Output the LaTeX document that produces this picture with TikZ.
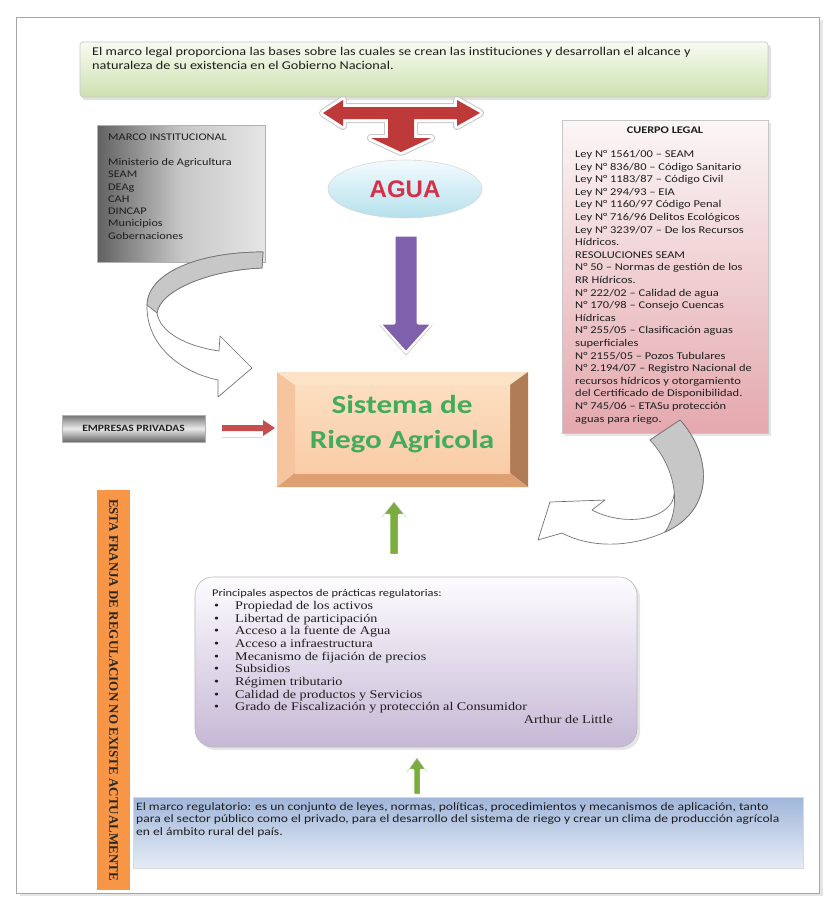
\documentclass[tikz,border=0pt]{standalone}
\usepackage{fontspec}
\usetikzlibrary{shapes.geometric}
\newfontfamily\calf[FakeStretch=1.2]{Carlito}
\newfontfamily\serf[FakeStretch=1.2]{Liberation Serif}
\newfontfamily\serfn{Liberation Serif}
\newfontfamily\arif{Liberation Sans}
\definecolor{gtop}{RGB}{247,251,242}
\definecolor{gbot}{RGB}{206,225,176}
\definecolor{redarr}{RGB}{190,58,58}
\definecolor{aguatop}{RGB}{242,251,254}
\definecolor{aguabot}{RGB}{182,224,236}
\definecolor{aguatxt}{RGB}{214,48,72}
\definecolor{purp}{RGB}{126,96,172}
\definecolor{peachA}{RGB}{252,222,192}
\definecolor{peachB}{RGB}{249,204,166}
\definecolor{bevL}{RGB}{246,196,158}
\definecolor{bevT}{RGB}{252,226,198}
\definecolor{bevR}{RGB}{176,124,86}
\definecolor{bevB}{RGB}{222,160,115}
\definecolor{sistxt}{RGB}{66,172,92}
\definecolor{pinkA}{RGB}{251,246,246}
\definecolor{pinkB}{RGB}{228,168,174}
\definecolor{lavA}{RGB}{253,252,255}
\definecolor{lavB}{RGB}{198,184,214}
\definecolor{blueA}{RGB}{160,182,218}
\definecolor{blueB}{RGB}{230,236,246}
\definecolor{orng}{RGB}{247,150,70}
\definecolor{grarr}{RGB}{122,172,62}
\definecolor{txtc}{RGB}{30,30,30}
\tikzset{
  txt/.style={inner sep=0pt, align=left, anchor=north west, text=txtc},
  boxline/.style={draw=black!22, line width=0.6pt, inner sep=0pt},
  ribbon/.style={draw=black!55, line width=0.7pt, fill=white, line join=round},
  ribbonback/.style={draw=black!55, line width=0.7pt, fill=black!22, line join=round},
}
\begin{document}
\begin{tikzpicture}[x=1pt,y=-1pt]
\useasboundingbox (0,0) rectangle (833,907);
\fill[white] (0,0) rectangle (833,907);
\fill[black!10] (20,20) rectangle (823,896);
\node[draw=black!35, fill=white, minimum width=803pt, minimum height=876pt, inner sep=0pt] (frame) at (418,455) {};

% top legal box
\fill[black!12, rounded corners=3pt] (82,45) rectangle (771,100);
\node[boxline, rounded corners=3pt, minimum width=688pt, minimum height=55pt, top color=gtop, bottom color=gbot] (legal) at (424,69.5) {};
\node[txt, font=\calf\fontsize{11.9}{14}\selectfont] (legaltxt) at (92,47) {El marco legal proporciona las bases sobre las cuales se crean las instituciones y desarrollan el alcance y\\naturaleza de su existencia en el Gobierno Nacional.};

% red T arrow
\path[draw=black!22, line width=8pt, line join=round] (323,113) -- (343,100) -- (343,107) -- (457,107) -- (457,100) -- (480,113) -- (457,126) -- (457,119) -- (414,119) -- (414,138) -- (431,138) -- (401,152) -- (371,138) -- (388,138) -- (388,119) -- (343,119) -- (343,126) -- cycle;
\path[draw=white, line width=6pt, line join=round, fill=redarr] (323,113) -- (343,100) -- (343,107) -- (457,107) -- (457,100) -- (480,113) -- (457,126) -- (457,119) -- (414,119) -- (414,138) -- (431,138) -- (401,152) -- (371,138) -- (388,138) -- (388,119) -- (343,119) -- (343,126) -- cycle;
\fill[redarr] (323,113) -- (343,100) -- (343,107) -- (457,107) -- (457,100) -- (480,113) -- (457,126) -- (457,119) -- (414,119) -- (414,138) -- (431,138) -- (401,152) -- (371,138) -- (388,138) -- (388,119) -- (343,119) -- (343,126) -- cycle;

% AGUA
\node[ellipse, draw=black!15, line width=0.6pt, top color=aguatop, bottom color=aguabot, minimum width=154pt, minimum height=58pt, inner sep=0pt, text=aguatxt, font=\arif\bfseries\fontsize{24}{24}\selectfont] (agua) at (405,189) {AGUA};

% purple arrow
\path[draw=white, line width=3pt, line join=round, fill=purp] (394,235) -- (418,235) -- (418,323) -- (433,323) -- (406,353) -- (379,323) -- (394,323) -- cycle;
\draw[black!25, line width=0.5pt] (379.5,325) -- (406,355) -- (432.5,325);

% Marco institucional
\node[boxline, draw=black!30, minimum width=168pt, minimum height=137pt, left color=black!62, right color=black!10, middle color=black!22] (mi) at (181,193.5) {};
\node[txt, font=\calf\fontsize{10.2}{12.3}\selectfont] (mitxt) at (108,134) {MARCO INSTITUCIONAL\\[12.3pt]Ministerio de Agricultura\\SEAM\\DEAg\\CAH\\DINCAP\\Municipios\\Gobernaciones};

% left curved arrow
\path[ribbon] (263,252) .. controls (200,252) and (148,272) .. (147,305) .. controls (146,345) and (180,372) .. (218,380) -- (218,397) -- (252,368) -- (220,336) -- (219,351) .. controls (185,346) and (160,332) .. (157,313) .. controls (160,290) and (210,270) .. (262,268) -- cycle;
\path[ribbonback] (263,252) .. controls (200,252) and (148,272) .. (147,305) -- (157,313) .. controls (160,290) and (210,270) .. (262,268) -- cycle;

% Cuerpo legal
\fill[black!10] (565,123) rectangle (771,436);
\node[boxline, minimum width=206pt, minimum height=313pt, top color=pinkA, bottom color=pinkB] (cl) at (665,276.5) {};
\node[inner sep=0pt, text=txtc, font=\calf\bfseries\fontsize{10.2}{13}\selectfont] (cltitle) at (665,130) {CUERPO LEGAL};
\node[txt, font=\calf\fontsize{10.4}{12.6}\selectfont] (cltxt) at (575,150) {Ley N° 1561/00 – SEAM\\Ley N° 836/80 – Código Sanitario\\Ley N° 1183/87 – Código Civil\\Ley N° 294/93 – EIA\\Ley N° 1160/97 Código Penal\\Ley N° 716/96 Delitos Ecológicos\\Ley N° 3239/07 – De los Recursos\\Hídricos.\\RESOLUCIONES SEAM\\N° 50 – Normas de gestión de los\\RR Hídricos.\\N° 222/02 – Calidad de agua\\N° 170/98 – Consejo Cuencas\\Hídricas\\N° 255/05 – Clasificación aguas\\superficiales\\N° 2155/05 – Pozos Tubulares\\N° 2.194/07 – Registro Nacional de\\recursos hídricos y otorgamiento\\del Certificado de Disponibilidad.\\N° 745/06 – ETASu protección\\aguas para riego.};

% right curved arrow
\path[ribbon] (680,420) .. controls (712,455) and (715,510) .. (665,532) .. controls (630,548) and (590,548) .. (562,533) -- (538,540) -- (550,502) -- (605,500) -- (592,510) .. controls (620,525) and (660,522) .. (672,502) .. controls (680,482) and (670,455) .. (650,440) -- cycle;
\path[ribbonback] (680,420) .. controls (712,455) and (715,510) .. (665,532) .. controls (682,508) and (676,468) .. (650,440) -- cycle;

% Sistema de riego
\node[inner sep=0pt, minimum width=251pt, minimum height=115pt] (sis) at (402.5,429.5) {};
\fill[bevL] (277,372) -- (295,385) -- (295,473) -- (277,487) -- cycle;
\fill[bevT] (277,372) -- (528,372) -- (510,385) -- (295,385) -- cycle;
\fill[bevR] (528,372) -- (528,487) -- (510,473) -- (510,385) -- cycle;
\fill[bevB] (277,487) -- (528,487) -- (510,473) -- (295,473) -- cycle;
\shade[top color=peachA, bottom color=peachB] (295,385) rectangle (510,473);
\node[inner sep=0pt, align=center, text=sistxt, font=\calf\bfseries\fontsize{26}{35}\selectfont] (sistxt) at (402,424) {Sistema de\\Riego Agricola};

% Empresas privadas
\node[boxline, draw=black!30, minimum width=143pt, minimum height=27pt, top color=black!55, bottom color=black!60, middle color=black!8, text=txtc, font=\calf\bfseries\fontsize{9.6}{10}\selectfont] (emp) at (133.5,428.5) {EMPRESAS PRIVADAS};
% red small arrow
\draw[black!15, line width=1pt] (222,437) -- (262,437);
\fill[redarr!90!white] (222,425) rectangle (263,431) (263,420) -- (275,428) -- (263,436) -- cycle;

% green arrow 1
\path[draw=white, line width=2.5pt, line join=round, fill=grarr] (389,555) -- (399,555) -- (399,515) -- (406,515) -- (394,500) -- (382,515) -- (389,515) -- cycle;
\draw[black!25, line width=0.4pt] (382,517) -- (394,502) -- (406,517);

% list box
\fill[black!10, rounded corners=18pt] (198,580) rectangle (640,750);
\node[boxline, draw=black!28, rounded corners=18pt, minimum width=442pt, minimum height=170pt, top color=lavA, bottom color=lavB] (lst) at (416,662) {};
\node[txt, font=\calf\fontsize{10.3}{12}\selectfont] (lsttitle) at (212,589) {Principales aspectos de prácticas regulatorias:};
\node[txt, font=\serf\fontsize{11.8}{12.7}\selectfont] (items) at (214,601) {%
\makebox[21pt][l]{\textbullet}Propiedad de los activos\\
\makebox[21pt][l]{\textbullet}Libertad de participación\\
\makebox[21pt][l]{\textbullet}Acceso a la fuente de Agua\\
\makebox[21pt][l]{\textbullet}Acceso a infraestructura\\
\makebox[21pt][l]{\textbullet}Mecanismo de fijación de precios\\
\makebox[21pt][l]{\textbullet}Subsidios\\
\makebox[21pt][l]{\textbullet}Régimen tributario\\
\makebox[21pt][l]{\textbullet}Calidad de productos y Servicios\\
\makebox[21pt][l]{\textbullet}Grado de Fiscalización y protección al Consumidor};
\node[inner sep=0pt, anchor=base east, text=txtc, font=\serf\fontsize{11.8}{12.7}\selectfont] (arthur) at (613,723) {Arthur de Little};

% green arrow 2
\path[draw=white, line width=2.5pt, line join=round, fill=grarr] (413,795) -- (421,795) -- (421,770) -- (427,770) -- (417,756) -- (407,770) -- (413,770) -- cycle;
\draw[black!25, line width=0.4pt] (407,772) -- (417,758) -- (427,772);

% orange strip
\node[inner sep=0pt, minimum width=33pt, minimum height=400pt, fill=orng] (strip) at (113.5,690) {};
\node[inner sep=0pt, rotate=-90, text=black!85, font=\serfn\bfseries\fontsize{13}{13}\selectfont] (striptxt) at (strip.center) {ESTA FRANJA DE REGULACION NO EXISTE ACTUALMENTE};

% bottom blue box
\node[boxline, draw=black!15, minimum width=670pt, minimum height=71pt, top color=blueA, bottom color=blueB] (bot) at (468,832.5) {};
\node[txt, font=\calf\fontsize{11.3}{12.5}\selectfont] (bottxt) at (136,802) {El marco regulatorio: es un conjunto de leyes, normas, políticas, procedimientos y mecanismos de aplicación, tanto\\para el sector público como el privado, para el desarrollo del sistema de riego y crear un clima de producción agrícola\\en el ámbito rural del país.};
\end{tikzpicture}
\end{document}
